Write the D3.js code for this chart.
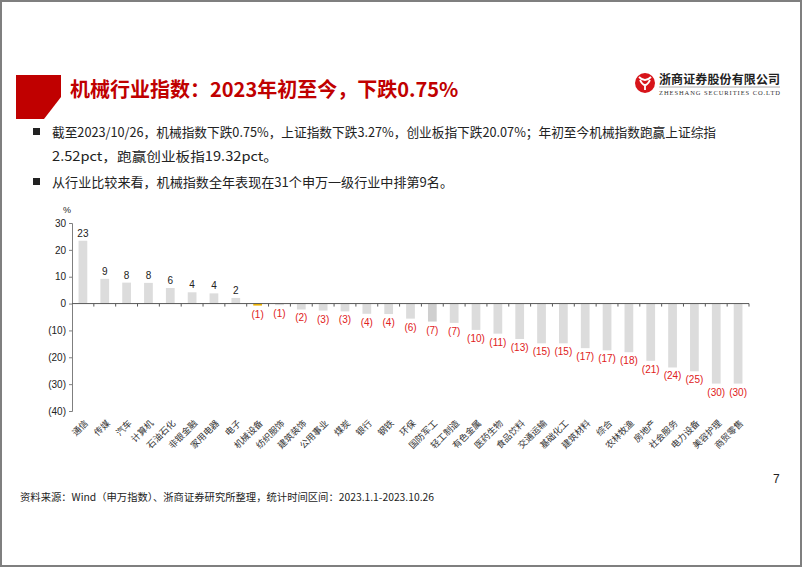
<!DOCTYPE html>
<html>
<head>
<meta charset="utf-8">
<script src="https://cdn.jsdelivr.net/npm/d3@7"></script>
<style>
  body { margin: 0; background: #fff; }
  svg { display: block; }
</style>
</head>
<body>
<div id="slide"></div>
<script>
// industry names (SW level-1), YTD change %
const industries = ["通信","传媒","汽车","计算机","石油石化","非银金融","家用电器","电子",
  "机械设备","纺织服饰","建筑装饰","公用事业","煤炭","银行","钢铁","环保",
  "国防军工","轻工制造","有色金属","医药生物","食品饮料","交通运输","基础化工","建筑材料",
  "综合","农林牧渔","房地产","社会服务","电力设备","美容护理","商贸零售"];
const changes = [23.4, 9.2, 7.8, 7.7, 5.8, 4.2, 3.8, 2.1,
  -0.75, -0.6, -2.2, -2.6, -2.9, -3.8, -3.9, -5.6,
  -6.7, -7.2, -9.8, -11.2, -13.2, -14.8, -14.8, -16.6,
  -17.4, -18.1, -21.3, -23.8, -25.2, -29.8, -29.8];
const yTicks = [30, 20, 10, 0, -10, -20, -30, -40];
const highlight = "机械设备";

const W = 802, H = 567;
const svg = d3.select("#slide").append("svg").attr("width", W).attr("height", H);

// frame
svg.append("rect").attr("x", 1).attr("y", 1).attr("width", W - 2).attr("height", H - 2)
  .attr("fill", "#fff").attr("stroke", "#7f7f7f").attr("stroke-width", 2);

// title block
svg.append("path").attr("d", "M16,75 L61,75 L61,97 L44,119 L16,119 Z").attr("fill", "#c00000");
svg.append("text").attr("x", 70).attr("y", 97)
  .style("font-family", "'Noto Sans CJK SC', sans-serif").style("font-size", "20px")
  .style("font-weight", "bold").attr("fill", "#c00000")
  .text("机械行业指数：2023年初至今，下跌0.75%");

// logo
const logo = svg.append("g");
logo.append("circle").attr("cx", 645).attr("cy", 83).attr("r", 10).attr("fill", "#d7141a");
logo.append("path").attr("d", "M639,77 Q645,83 651,77 M640,80 Q645,90 650,80 M645,84 L645,90")
  .attr("fill", "none").attr("stroke", "#fff").attr("stroke-width", 1.8);
logo.append("text").attr("x", 659).attr("y", 84)
  .style("font-family", "'Noto Sans CJK SC', sans-serif").style("font-size", "12px")
  .style("font-weight", "bold").attr("fill", "#222")
  .attr("textLength", 121).text("浙商证券股份有限公司");
logo.append("line").attr("x1", 659).attr("x2", 780).attr("y1", 87).attr("y2", 87)
  .attr("stroke", "#999").attr("stroke-width", 0.8);
logo.append("text").attr("x", 659).attr("y", 94.5)
  .style("font-family", "'Liberation Serif', serif").style("font-size", "6.5px")
  .attr("fill", "#333").attr("textLength", 121).text("ZHESHANG SECURITIES CO.LTD");

// bullets
const bulletFont = "'Noto Sans CJK SC', sans-serif";
const lines = [
  {x: 52, y: 137, t: "截至2023/10/26，机械指数下跌0.75%，上证指数下跌3.27%，创业板指下跌20.07%；年初至今机械指数跑赢上证综指", len: 664, b: true},
  {x: 52, y: 161, t: "2.52pct，跑赢创业板指19.32pct。", len: 226, b: false},
  {x: 52, y: 187, t: "从行业比较来看，机械指数全年表现在31个申万一级行业中排第9名。", len: 401, b: true}
];
lines.forEach(l => {
  if (l.b) svg.append("rect").attr("x", 33).attr("y", l.y - 9).attr("width", 7).attr("height", 7).attr("fill", "#222");
  svg.append("text").attr("x", l.x).attr("y", l.y)
    .style("font-family", bulletFont).style("font-size", "13px").attr("fill", "#222")
    .attr("textLength", l.len).attr("lengthAdjust", "spacingAndGlyphs").text(l.t);
});

// chart
const x = d3.scaleBand().domain(industries).range([72, 749]).paddingInner(0.6).paddingOuter(0.3);
const y = d3.scaleLinear().domain([-40, 30]).range([411, 223]);
const chart = svg.append("g");
const numFont = "'Liberation Sans', Arial, sans-serif";
const mid = d => x(d) + x.bandwidth() / 2;

chart.selectAll("rect.bar").data(industries).enter().append("rect")
  .attr("class", "bar")
  .attr("x", d => x(d))
  .attr("width", x.bandwidth())
  .attr("y", (d, i) => y(Math.max(0, changes[i])))
  .attr("height", (d, i) => Math.abs(y(changes[i]) - y(0)))
  .attr("fill", d => d === highlight ? "#f2b600" : (d === "国防军工" ? "#cfcfcf" : "#dcdcdc"));

// y axis
const yAxis = d3.axisLeft(y).tickValues(yTicks).tickSize(3)
  .tickFormat(v => v < 0 ? "(" + (-v) + ")" : v);
const yg = chart.append("g").attr("transform", "translate(72,0)").call(yAxis);
yg.select(".domain").attr("stroke", "#7f7f7f");
yg.selectAll(".tick line").attr("stroke", "#7f7f7f");
yg.selectAll("text").style("font-family", numFont).style("font-size", "10px").attr("fill", "#222");

// x axis at zero, ticks between categories
const xg = chart.append("g");
xg.append("line").attr("x1", 72).attr("x2", 749).attr("y1", y(0)).attr("y2", y(0))
  .attr("stroke", "#595959");
xg.selectAll("line.tk").data(industries).enter().append("line")
  .attr("class", "tk")
  .attr("x1", d => mid(d) + x.step() / 2)
  .attr("x2", d => mid(d) + x.step() / 2)
  .attr("y1", y(0)).attr("y2", y(0) + 3)
  .attr("stroke", "#595959");

chart.append("text").attr("x", 67).attr("y", 213).attr("text-anchor", "middle")
  .style("font-family", numFont).style("font-size", "9px").attr("fill", "#222").text("%");

// value labels
chart.selectAll("text.val").data(industries).enter().append("text")
  .attr("class", "val")
  .attr("x", mid)
  .attr("y", (d, i) => changes[i] >= 0 ? y(changes[i]) - 4 : y(changes[i]) + 12)
  .attr("text-anchor", "middle")
  .style("font-family", numFont).style("font-size", "10px")
  .attr("fill", (d, i) => changes[i] >= 0 ? "#222" : "#e02020")
  .text((d, i) => {
    const r = Math.abs(Math.round(changes[i])) || 1;
    return changes[i] >= 0 ? r : "(" + r + ")";
  });

// category labels
chart.selectAll("text.cat").data(industries).enter().append("text")
  .attr("class", "cat")
  .attr("transform", d => "translate(" + (mid(d) + 1) + ",419) rotate(-45)")
  .attr("text-anchor", "end").attr("dy", "0.75em")
  .style("font-family", "'Noto Sans CJK SC', sans-serif").style("font-size", "9px")
  .attr("fill", "#333").text(d => d);

// footer
svg.append("text").attr("x", 773).attr("y", 483)
  .style("font-family", numFont).style("font-size", "12px").attr("fill", "#222").text("7");
svg.append("text").attr("x", 20).attr("y", 501)
  .style("font-family", "'Noto Sans CJK SC', sans-serif").style("font-size", "10px")
  .attr("fill", "#222").attr("textLength", 414).attr("lengthAdjust", "spacingAndGlyphs")
  .text("资料来源：Wind（申万指数）、浙商证券研究所整理，统计时间区间：2023.1.1-2023.10.26");
</script>
</body>
</html>
